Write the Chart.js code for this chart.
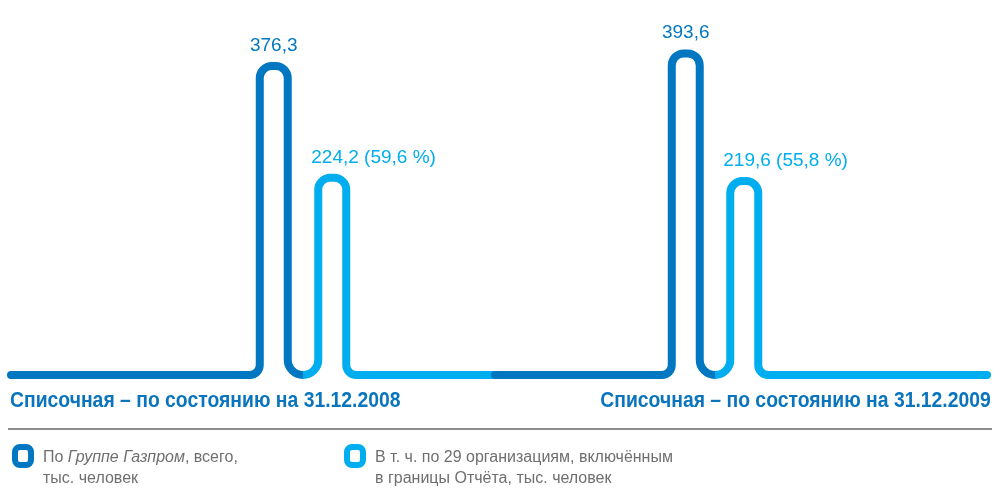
<!DOCTYPE html>
<html>
<head>
<meta charset="utf-8">
<script src="https://cdn.jsdelivr.net/npm/chart.js@4.4.1/dist/chart.umd.min.js"></script>
<style>
  html, body { margin: 0; padding: 0; background: #fff; }
  #wrap { position: relative; width: 995px; height: 488px; overflow: hidden; }
  #chart { position: absolute; left: 0; top: 0; }
  .cat {
    position: absolute; top: 386px; font-family: "Liberation Sans", Arial, sans-serif;
    font-weight: bold; font-size: 22px; line-height: 28px; color: #0a74bd; white-space: nowrap;
    transform: scaleX(0.88);
  }
  .rule { position: absolute; left: 8px; top: 428px; width: 984px; height: 2px; background: #8c8c8c; }
  .item { position: absolute; top: 442px; font-family: "Liberation Sans", Arial, sans-serif; font-size: 16px; line-height: 21px; color: #6f6f6f; }
  .box { position: absolute; left: 0; top: 2px; width: 10px; height: 12px; border: 6px solid; border-radius: 8px; }
  .txt { position: absolute; left: 31px; top: 4px; white-space: nowrap; }
</style>
</head>
<body>
<div id="wrap">
  <canvas id="chart" width="995" height="488"></canvas>
  <div class="cat" id="cat0" style="left:10px; transform-origin: left center"></div>
  <div class="cat" id="cat1" style="right:4px; transform-origin: right center"></div>
  <div class="rule"></div>
  <div class="item" style="left:12px"><span class="box" style="border-color:#0077c0"></span><span class="txt" id="leg0"></span></div>
  <div class="item" style="left:344px"><span class="box" style="border-color:#00aeef"></span><span class="txt" id="leg1"></span></div>
</div>
<script>
const categories = ['31.12.2008', '31.12.2009'];
const totalStaff = [376.3, 393.6];
const reportStaff = [224.2, 219.6];
const seriesNames = [
    'По <i>Группе Газпром</i>, всего,<br>тыс. человек',
    'В т. ч. по 29 организациям, включённым<br>в границы Отчёта, тыс. человек'
];
const darkBlue = '#0077c0';
const lightBlue = '#00aeef';

categories.forEach((c, i) => {
    document.getElementById('cat' + i).textContent = 'Списочная – по состоянию на ' + c;
});
seriesNames.forEach((n, i) => {
    document.getElementById('leg' + i).innerHTML = n;
});

function fmt(v) {
    return v.toFixed(1).replace('.', ',');
}

function capDot(ctx, x, y, color) {
    ctx.lineCap = 'round';
    ctx.strokeStyle = color;
    ctx.beginPath();
    ctx.moveTo(x, y);
    ctx.lineTo(x + 1, y);
    ctx.stroke();
}

// draws the "pipe" outline for each bar pair, plus the value labels
const pipePlugin = {
    id: 'pipe',
    afterDatasetsDraw(chart) {
        const ctx = chart.ctx;
        const base = chart.scales.y.bottom;
        const xs = chart.scales.x;
        const lw = 8;
        const rt = 12, rb = 10;
        const a = chart.getDatasetMeta(0).data;
        const b = chart.getDatasetMeta(1).data;
        const split = (xs.getPixelForValue(0) + xs.getPixelForValue(1)) / 2 - 14;
        ctx.save();
        ctx.lineWidth = lw;
        ctx.lineJoin = 'round';
        for (let i = 0; i < a.length; i++) {
            const A = a[i], B = b[i];
            const a1 = A.x - A.width / 2 + lw / 2, a2 = A.x + A.width / 2 - lw / 2;
            const b1 = B.x - B.width / 2 + lw / 2, b2 = B.x + B.width / 2 - lw / 2;
            const ta = A.y + lw / 2, tb = B.y + lw / 2;
            const mid = (a2 + b1) / 2;
            const ru = (b1 - a2) / 2;
            const startX = i === 0 ? 11 : split;
            const endX = i === a.length - 1 ? chart.width - 8 : split;

            // total series
            ctx.strokeStyle = darkBlue;
            ctx.lineCap = 'butt';
            ctx.beginPath();
            ctx.moveTo(startX, base);
            ctx.arcTo(a1, base, a1, base - rb, rb);
            ctx.arcTo(a1, ta, A.x, ta, rt);
            ctx.arcTo(a2, ta, a2, base, rt);
            ctx.arcTo(a2, base, mid, base, ru);
            ctx.stroke();
            capDot(ctx, startX, base, darkBlue);

            // included organisations
            ctx.strokeStyle = lightBlue;
            ctx.lineCap = 'butt';
            ctx.beginPath();
            ctx.moveTo(mid, base);
            ctx.arcTo(b1, base, b1, tb, ru);
            ctx.arcTo(b1, tb, B.x, tb, rt);
            ctx.arcTo(b2, tb, b2, base, rt);
            ctx.arcTo(b2, base, endX, base, rb);
            ctx.lineTo(endX, base);
            ctx.stroke();
            if (i === a.length - 1) capDot(ctx, endX - 1, base, lightBlue);

            // labels
            ctx.font = '19px "Liberation Sans", Arial, sans-serif';
            ctx.textBaseline = 'alphabetic';
            ctx.fillStyle = darkBlue;
            ctx.textAlign = 'center';
            ctx.fillText(fmt(totalStaff[i]), A.x, A.y - 11);
            ctx.fillStyle = lightBlue;
            ctx.textAlign = 'left';
            const pct = reportStaff[i] / totalStaff[i] * 100;
            ctx.fillText(fmt(reportStaff[i]) + ' (' + fmt(pct) + ' %)', B.x - B.width / 2 - 3, B.y - 11);
        }
        ctx.restore();
    }
};

new Chart(document.getElementById('chart'), {
    type: 'bar',
    data: {
        labels: categories,
        datasets: [
            { label: 'total', data: totalStaff, backgroundColor: 'rgba(0,0,0,0)' },
            { label: 'report', data: reportStaff, backgroundColor: 'rgba(0,0,0,0)' }
        ]
    },
    options: {
        responsive: false,
        animation: false,
        categoryPercentage: 0.284,
        barPercentage: 0.615,
        layout: { padding: { left: 97, right: 74, top: 8, bottom: 113 } },
        scales: {
            x: { display: false },
            y: { display: false, min: -50, max: 450 }
        },
        plugins: { legend: { display: false }, tooltip: { enabled: false } }
    },
    plugins: [pipePlugin]
});
</script>
</body>
</html>
